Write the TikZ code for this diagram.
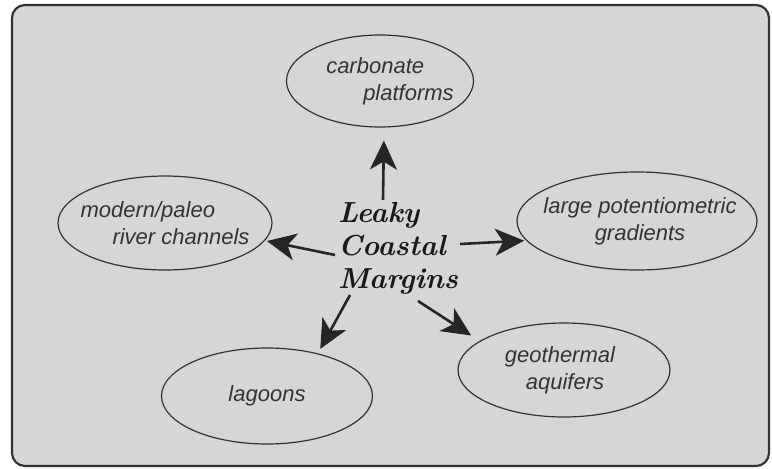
\documentclass[tikz,border=0pt]{standalone}
\usepackage{fontspec}
\newfontfamily\ovalfont{Liberation Sans}
\usetikzlibrary{shapes.geometric,arrows.meta}

\tikzset{
  oval/.style={draw=black!80,line width=1.2pt,ellipse,inner sep=0pt},
  ovaltext/.style={font=\ovalfont\itshape\fontsize{22}{27}\selectfont,text=black!80},
  push/.style={line width=2.6pt,black!85,
    -{Stealth[length=29pt,width=27pt,inset=8pt]}}
}

\begin{document}
\begin{tikzpicture}[x=1pt,y=-1pt]
\useasboundingbox (0,0) rectangle (772,469);
\draw[fill=black!16,draw=black!80,line width=2.2pt,rounded corners=13pt]
  (12,5) rectangle (769,466);

\node[font=\bfseries\itshape\fontsize{29}{33}\selectfont,align=left,text=black!90]
  (lcm) at (398,248) {Leaky\\Coastal\\Margins};

\node[oval,minimum width=187,minimum height=92] (carb) at (380,81) {};
\node[oval,minimum width=214,minimum height=94] (river) at (165,223) {};
\node[oval,minimum width=240,minimum height=98] (pot) at (637,221) {};
\node[oval,minimum width=211,minimum height=96] (lag) at (267,396) {};
\node[oval,minimum width=212,minimum height=94] (geo) at (564,370) {};

\node[ovaltext,align=left] at ([xshift=10pt]carb) {carbonate\\\hspace{37pt}platforms};
\node[ovaltext,align=left] at (river) {modern/paleo\\\hspace{32pt}river channels};
\node[ovaltext,align=center] at ([xshift=3pt]pot) {large potentiometric\\gradients};
\node[ovaltext] at (lag) {lagoons};
\node[ovaltext,align=center] at ([xshift=-4pt]geo) {geothermal\\\hspace{10pt}aquifers};

% arrows out of the centre text
\coordinate (up) at (383,200);
\coordinate (lt) at (335,255);
\coordinate (rt) at (460,244);
\coordinate (dl) at (350,295);
\coordinate (dr) at (418,301);

\draw[push,shorten >=13pt] (up) -- (carb.-85);
\draw[push,shorten >=2pt] (lt) -- (river.-10);
\draw[push,shorten >=2pt] (rt) -- (pot.190);
\draw[push,shorten >=5pt] (dl) -- (lag.40);
\draw[push,shorten >=10pt] (dr) -- (geo.161);
\end{tikzpicture}
\end{document}
